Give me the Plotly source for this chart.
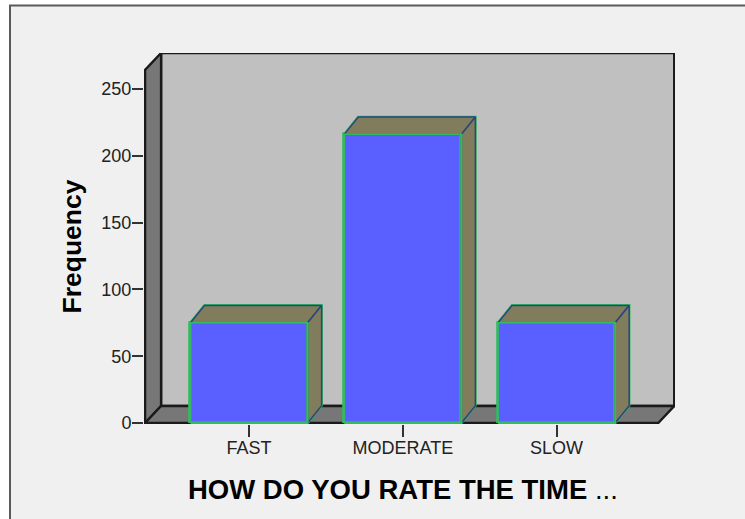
import plotly.graph_objects as go

# Survey responses
categories = ["FAST", "MODERATE", "SLOW"]
frequencies = [75, 216, 75]
y_ticks = [0, 50, 100, 150, 200, 250]

# Oblique projection of the chart box, in axis units
DX = 0.104
DY = 12.7
BAR_DX = 0.091
BAR_DY = 13.0
BAR_W = 0.762
X_LO, X_HI = -0.683, 2.770
Y_LO, Y_HI = -0.75, 276.9
LEFT = -0.676
RIGHT = LEFT + 3.337

# Plot area in pixels, used to place the frame and the axis titles
M_L, M_R, M_T, M_B = 144, 70, 53, 95
W, H = 745, 519
PW, PH = W - M_L - M_R, H - M_T - M_B

WALL_BACK = "#c0c0c0"
WALL_SIDE = "#777777"
EDGE = "#1a1a1a"
FACE_FRONT = "#5a5fff"
FACE_DEPTH = "#807c5c"
EDGE_GREEN = "#33bb60"
EDGE_NAVY = "#27477c"
TEXT = "#222222"


def px_x(p):
    return (p - M_L) / PW


def px_y(p):
    return (H - M_B - p) / PH


fig = go.Figure()

# Front faces
xs = list(range(len(categories)))
fig.add_bar(
    x=xs, y=frequencies, width=BAR_W,
    marker=dict(color=FACE_FRONT, line=dict(color=EDGE_GREEN, width=1.8)),
    hoverinfo="skip",
)

# Top and side faces, derived from each bar's value
for x, v in zip(xs, frequencies):
    l, r = x - BAR_W / 2, x + BAR_W / 2
    # green silhouette behind the navy creases
    fig.add_scatter(
        x=[r, r + BAR_DX, r + BAR_DX, l + BAR_DX, l],
        y=[0, BAR_DY, v + BAR_DY, v + BAR_DY, v],
        mode="lines", line=dict(color=EDGE_GREEN, width=2.6),
        hoverinfo="skip",
    )
    fig.add_scatter(
        x=[l, l + BAR_DX, r + BAR_DX, r, l], y=[v, v + BAR_DY, v + BAR_DY, v, v],
        mode="lines", fill="toself", fillcolor=FACE_DEPTH,
        line=dict(color=EDGE_NAVY, width=1.5), hoverinfo="skip",
    )
    fig.add_scatter(
        x=[r, r + BAR_DX, r + BAR_DX, r, r], y=[0, BAR_DY, v + BAR_DY, v, 0],
        mode="lines", fill="toself", fillcolor=FACE_DEPTH,
        line=dict(color=EDGE_NAVY, width=1.5), hoverinfo="skip",
    )
    # front outline drawn last so the green stays on top
    fig.add_scatter(
        x=[l, l, r, r, l], y=[0, v, v, 0, 0],
        mode="lines", line=dict(color=EDGE_GREEN, width=1.8), hoverinfo="skip",
    )


def poly(points):
    return "M " + " L ".join(f"{a},{b}" for a, b in points) + " Z"


def box_face(points, fill):
    return dict(
        type="path", xref="x", yref="y", layer="below", path=poly(points),
        fillcolor=fill, line=dict(color=EDGE, width=2.4),
    )


shapes = [
    # page frame, open past the right and bottom edges
    dict(type="rect", xref="paper", yref="paper", layer="below",
         x0=px_x(10), y0=px_y(535), x1=px_x(765), y1=px_y(5.5),
         fillcolor="#f0f0f0", line=dict(color="#5a5a5a", width=2)),
    box_face([(LEFT + DX, DY), (RIGHT + DX, DY), (RIGHT + DX, Y_HI), (LEFT + DX, Y_HI)], WALL_BACK),
    box_face([(LEFT, 0), (LEFT + DX, DY), (LEFT + DX, Y_HI), (LEFT, Y_HI - DY)], WALL_SIDE),
    box_face([(LEFT, 0), (LEFT + DX, DY), (RIGHT + DX, DY), (RIGHT, 0)], WALL_SIDE),
]

annotations = [
    dict(text="<b>HOW DO YOU RATE THE TIME</b> ...", xref="paper", yref="paper",
         x=px_x(403), y=px_y(489), xanchor="center", yanchor="middle", showarrow=False,
         font=dict(size=27.5, color="#000000")),
    dict(text="<b>Frequency</b>", xref="paper", yref="paper", textangle=-90,
         x=px_x(72), y=px_y(246.5), xanchor="center", yanchor="middle", showarrow=False,
         font=dict(size=26.5, color="#000000")),
]

fig.update_layout(
    width=W, height=H, autosize=False,
    margin=dict(l=M_L, r=M_R, t=M_T, b=M_B),
    paper_bgcolor="#ffffff", plot_bgcolor="rgba(0,0,0,0)",
    showlegend=False, bargap=0,
    font=dict(family="Liberation Sans, Arial, sans-serif", color=TEXT, size=18),
    shapes=shapes,
    annotations=annotations,
    xaxis=dict(
        range=[X_LO, X_HI], tickmode="array", tickvals=xs, ticktext=categories,
        ticks="outside", ticklen=12, tickwidth=1.5, tickcolor="#333333",
        showgrid=False, zeroline=False, showline=False,
        tickfont=dict(size=18), automargin=False, ticklabelstandoff=-5,
    ),
    yaxis=dict(
        range=[Y_LO, Y_HI], tickmode="array", tickvals=y_ticks,
        ticks="outside", ticklen=11, tickwidth=1.5, tickcolor="#333333",
        showgrid=False, zeroline=False, showline=False,
        tickfont=dict(size=18), automargin=False, ticklabelstandoff=-3,
    ),
)

fig.write_html("out.html")
